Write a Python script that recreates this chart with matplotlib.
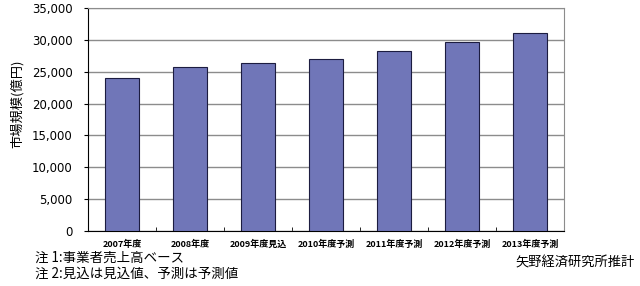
import matplotlib
matplotlib.use("Agg")
from matplotlib import pyplot as plt
import numpy as np

plt.rcParams['font.family'] = ['Noto Sans CJK JP', 'DejaVu Sans']

years = ['2007年度', '2008年度', '2009年度見込', '2010年度予測',
         '2011年度予測', '2012年度予測', '2013年度予測']
market = [24000, 25800, 26300, 27000, 28200, 29700, 31100]
yticks = [0, 5000, 10000, 15000, 20000, 25000, 30000, 35000]

fig = plt.figure(figsize=(6.4, 2.86), dpi=100)
ax = fig.add_axes([88/640, 1-231/286, (564-88)/640, (231-8)/286])

x = np.arange(len(years))
ax.bar(x, market, width=0.5, color='#7076b8', edgecolor='#1c1c40',
       linewidth=0.8, zorder=3)

ax.set_xlim(-0.5, len(years)-0.5)
ax.set_ylim(0, 35000)
ax.set_yticks(yticks)
ax.set_yticklabels([f'{v:,}' for v in yticks], fontsize=8.5, family='DejaVu Sans')
ax.yaxis.grid(True, color='#8c8c8c', linewidth=1.0, zorder=0)
ax.set_xticks(x)
ax.set_xticklabels(years, fontsize=6.5, fontweight='bold')
ax.tick_params(axis='x', length=0, pad=6)
ax.tick_params(axis='y', length=3, width=0.8, pad=8)
ax.set_xticks(np.arange(len(years)-1)+0.5, minor=True)
ax.tick_params(axis='x', which='minor', length=3, direction='in')

ax.spines['left'].set_color('black')
ax.spines['bottom'].set_color('black')
ax.spines['top'].set_color('#8c8c8c')
ax.spines['right'].set_color('#8c8c8c')

# y label sits a bit above the axis centre in the original
fig.text(17/640, 1-104/286, '市場規模(億円)', fontsize=9.5, rotation=90,
         va='center', ha='center')

fig.text(35/640, 1-258/286, '注 1:事業者売上高ベース', fontsize=9.7, va='center')
fig.text(35/640, 1-274/286, '注 2:見込は見込値、予測は予測値', fontsize=9.7, va='center')
fig.text(635/640, 1-263/286, '矢野経済研究所推計', fontsize=9.5, va='center', ha='right')

fig.savefig('out.png', dpi=100)
